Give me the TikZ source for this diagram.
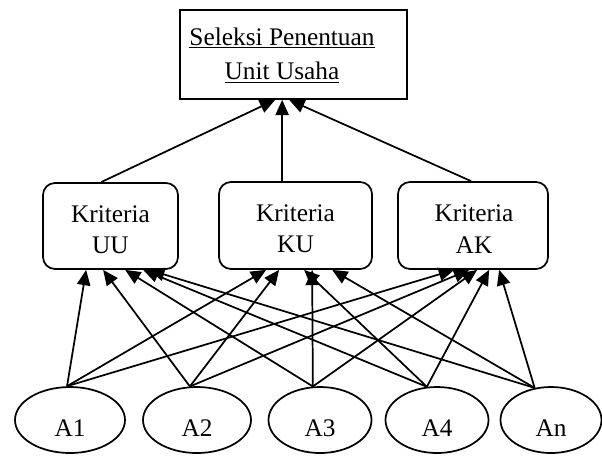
\documentclass[tikz,border=0pt]{standalone}
\usepackage{fontspec}
\setmainfont{Liberation Serif}
\usetikzlibrary{shapes.geometric,arrows.meta,calc}
\begin{document}
\begin{tikzpicture}[x=0.75pt,y=-0.75pt, line width=1.3pt,
  critbox/.style={draw, rounded corners=9pt, inner sep=0pt},
  crittext/.style={align=center, inner sep=0pt, font=\fontsize{19}{23.5}\selectfont},
  alt/.style={draw, ellipse, inner sep=0pt, minimum height=49.5pt, text height=25pt, text depth=0pt, font=\fontsize{19}{23}\selectfont},
  arr/.style={-{Triangle[length=11.5pt,width=10pt]}}]
\useasboundingbox (0,0) rectangle (602,455);
% goal box
\node[draw, minimum width=170.25pt, minimum height=66.75pt, inner sep=0pt] (top) at (293.5,54.5) {};
\node[align=center, inner sep=0pt, font=\fontsize{19}{26}\selectfont] (toptext) at (282,55) {\underline{Seleksi Penentuan}\\\underline{Unit Usaha}};
% criteria
\node[critbox, minimum width=101.25pt, minimum height=64.5pt] (uu) at (110.5,226) {};
\node[critbox, minimum width=114.75pt, minimum height=65.25pt] (ku) at (295.5,225.5) {};
\node[critbox, minimum width=112.5pt, minimum height=65.25pt] (ak) at (473,225.5) {};
\node[crittext] (uut) at (110.5,229.5) {Kriteria\\UU};
\node[crittext] (kut) at (295.5,229) {Kriteria\\KU};
\node[crittext] (akt) at (474,229) {Kriteria\\AK};
% alternatives
\node[alt, minimum width=82.5pt] (a1) at (70,420) {A1};
\node[alt, minimum width=81pt] (a2) at (197,420) {A2};
\node[alt, minimum width=77.25pt] (a3) at (320,420) {A3};
\node[alt, minimum width=77.25pt] (a4) at (437,420) {A4};
\node[alt, minimum width=75.75pt] (an) at (551,420) {An};
% criteria to goal
\draw[arr] ($(uu.north west)+(59,0)$) -- ($(top.south west)+(96,0)$);
\draw[arr] ($(ku.north west)+(64,0)$) -- ($(top.south west)+(103,0)$);
\draw[arr] ($(ak.north west)+(74,0)$) -- ($(top.south west)+(110,0)$);
% alternatives to criteria
\foreach \s/\ang/\u/\k/\a in {a1/95/44/48/57, a2/102/61/61/72, a3/102/83/94/80, a4/107/101/86/92, an/117/107/114/102} {
  \draw[arr] (\s.\ang) -- ($(uu.south west)+(\u,0)$);
  \draw[arr] (\s.\ang) -- ($(ku.south west)+(\k,0)$);
  \draw[arr] (\s.\ang) -- ($(ak.south west)+(\a,0)$);
}
\end{tikzpicture}
\end{document}
